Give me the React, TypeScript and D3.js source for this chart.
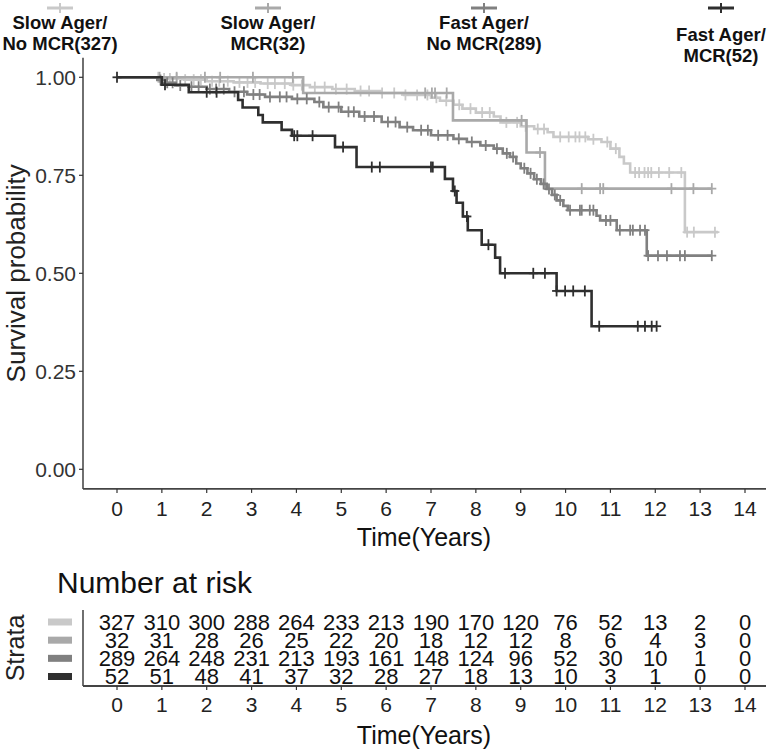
import React from "react";
import * as d3 from "d3";

const FONT = "'Liberation Sans', Arial, Helvetica, sans-serif";

const strataNames = ["Slow Ager/No MCR", "Slow Ager/MCR", "Fast Ager/No MCR", "Fast Ager/MCR"];
const legendLine1 = ["Slow Ager/", "Slow Ager/", "Fast Ager/", "Fast Ager/"];
const legendLine2 = ["No MCR(327)", "MCR(32)", "No MCR(289)", "MCR(52)"];
const strataColors = ["#c9c9c9", "#a9a9a9", "#808080", "#2f2f2f"];

// Kaplan-Meier step points (time, survival) per stratum
const slowNoTimes = [0, 1.0, 1.5, 2.0, 2.6, 3.2, 3.9, 4.3, 4.8, 5.3, 5.9, 6.4, 7.0, 7.2, 7.5, 7.7, 8.0, 8.4, 8.55, 9.0, 9.3, 9.6, 9.73, 10.5, 10.8, 11.0, 11.2, 11.3, 11.44, 12.66];
const slowNoSurv = [1, 0.997, 0.994, 0.99, 0.987, 0.984, 0.98, 0.975, 0.97, 0.965, 0.96, 0.955, 0.948, 0.94, 0.93, 0.92, 0.91, 0.9, 0.885, 0.875, 0.868, 0.86, 0.848, 0.842, 0.835, 0.818, 0.797, 0.78, 0.757, 0.605];
const slowNoEnd = 13.4;
const slowNoCensor = [0.92, 1.05, 1.18, 1.33, 1.52, 1.71, 1.87, 2.12, 2.28, 2.47, 2.73, 2.91, 3.08, 3.36, 3.52, 3.74, 3.93, 4.12, 4.41, 4.63, 4.88, 5.12, 5.43, 5.62, 5.91, 6.18, 6.43, 6.69, 6.92, 7.12, 7.34, 7.63, 7.88, 8.14, 8.31, 8.68, 8.92, 9.11, 9.38, 9.52, 9.88, 10.07, 10.22, 10.31, 10.44, 10.62, 10.93, 11.12, 11.55, 11.64, 11.76, 11.84, 11.91, 12.08, 12.31, 12.58, 12.71, 12.86, 13.33];

const slowMcrTimes = [0, 4.15, 7.49, 9.13, 9.54];
const slowMcrSurv = [1, 0.96, 0.89, 0.808, 0.716];
const slowMcrEnd = 13.26;
const slowMcrCensor = [0.95, 1.33, 1.96, 2.3, 3.03, 3.92, 6.87, 7.02, 7.09, 7.35, 9.02, 9.43, 10.36, 10.77, 10.84, 12.36, 12.85, 13.26];

const fastNoTimes = [0, 0.9, 1.1, 1.3, 1.6, 2.0, 2.5, 2.9, 3.3, 3.9, 4.4, 4.6, 5.0, 5.4, 5.9, 6.3, 6.6, 7.0, 7.5, 7.8, 8.1, 8.4, 8.6, 8.76, 8.9, 9.0, 9.15, 9.3, 9.45, 9.58, 9.7, 9.8, 9.95, 10.05, 10.69, 10.77, 11.14, 11.81];
const fastNoSurv = [1, 0.993, 0.986, 0.979, 0.976, 0.97, 0.963, 0.956, 0.95, 0.945, 0.937, 0.924, 0.912, 0.9, 0.886, 0.873, 0.865, 0.852, 0.843, 0.835, 0.826, 0.818, 0.806, 0.797, 0.78, 0.768, 0.755, 0.74, 0.728, 0.715, 0.7, 0.686, 0.672, 0.661, 0.647, 0.635, 0.61, 0.545];
const fastNoEnd = 13.26;
const fastNoCensor = [0.97, 1.12, 1.24, 1.41, 1.66, 1.82, 2.07, 2.21, 2.38, 2.62, 2.83, 3.04, 3.18, 3.41, 3.63, 3.78, 4.02, 4.23, 4.51, 4.72, 4.94, 5.16, 5.28, 5.52, 5.73, 6.04, 6.21, 6.47, 6.78, 6.93, 7.16, 7.37, 7.62, 7.91, 8.22, 8.47, 8.69, 8.83, 9.08, 9.22, 9.36, 9.51, 9.63, 9.76, 9.88, 10.1, 10.32, 10.36, 10.54, 10.62, 10.9, 11.0, 11.21, 11.44, 11.5, 11.66, 11.77, 11.84, 12.06, 12.26, 12.55, 12.66, 13.26];

const fastMcrTimes = [0, 1.0, 1.6, 2.7, 2.8, 3.15, 3.25, 3.67, 3.9, 4.86, 5.34, 7.31, 7.49, 7.57, 7.71, 7.82, 8.13, 8.43, 8.54, 9.8, 10.58];
const fastMcrSurv = [1, 0.981, 0.962, 0.942, 0.923, 0.904, 0.885, 0.866, 0.851, 0.822, 0.771, 0.741, 0.71, 0.68, 0.645, 0.61, 0.573, 0.54, 0.5, 0.455, 0.365];
const fastMcrEnd = 12.03;
const fastMcrCensor = [0, 1.07, 2.0, 2.22, 3.95, 4.02, 4.36, 5.04, 5.68, 5.86, 7.0, 7.04, 7.53, 7.8, 8.28, 8.65, 9.28, 9.54, 9.8, 9.99, 10.17, 10.43, 10.75, 11.61, 11.77, 11.92, 12.03];

const timeTicks = [0, 1, 2, 3, 4, 5, 6, 7, 8, 9, 10, 11, 12, 13, 14];
const survTicks = [0, 0.25, 0.5, 0.75, 1];
const survTickLabels = ["0.00", "0.25", "0.50", "0.75", "1.00"];

const riskSlowNo = [327, 310, 300, 288, 264, 233, 213, 190, 170, 120, 76, 52, 13, 2, 0];
const riskSlowMcr = [32, 31, 28, 26, 25, 22, 20, 18, 12, 12, 8, 6, 4, 3, 0];
const riskFastNo = [289, 264, 248, 231, 213, 193, 161, 148, 124, 96, 52, 30, 10, 1, 0];
const riskFastMcr = [52, 51, 48, 41, 37, 32, 28, 27, 18, 13, 10, 3, 1, 0, 0];

const curves = [
  { times: slowNoTimes, surv: slowNoSurv, end: slowNoEnd, censor: slowNoCensor },
  { times: slowMcrTimes, surv: slowMcrSurv, end: slowMcrEnd, censor: slowMcrCensor },
  { times: fastNoTimes, surv: fastNoSurv, end: fastNoEnd, censor: fastNoCensor },
  { times: fastMcrTimes, surv: fastMcrSurv, end: fastMcrEnd, censor: fastMcrCensor },
];
const riskRows = [riskSlowNo, riskSlowMcr, riskFastNo, riskFastMcr];

const legendCenters = [60, 268, 484, 721];
const legendOffsets = [0, 0, 0, 12];

function survAt(times: number[], surv: number[], t: number) {
  let v = surv[0];
  for (let i = 0; i < times.length; i++) if (times[i] <= t) v = surv[i];
  return v;
}

export default function App() {
  const W = 771, H = 750;
  const x = d3.scaleLinear().domain([0, 14]).range([117, 745]);
  const y = d3.scaleLinear().domain([0, 1]).range([469.3, 77.3]);
  const panelLeft = 83, panelRight = 766, panelTop = y(1.05), panelBottom = y(-0.05);
  const rowY = d3.scalePoint<string>().domain(strataNames).range([622, 676.5]);
  const tableAxisY = 686;

  const line = d3
    .line<[number, number]>()
    .x((d) => x(d[0]))
    .y((d) => y(d[1]))
    .curve(d3.curveStepAfter);

  return (
    <svg width={W} height={H} style={{ position: "absolute", left: 0, top: 0, background: "#fff" }} fontFamily={FONT}>
      <rect width={W} height={H} fill="#fff" />
      {/* Legend */}
      {strataNames.map((s, i) => {
        const cx = legendCenters[i];
        const oy = legendOffsets[i];
        return (
          <g key={s}>
            <line x1={cx - 13} x2={cx + 13} y1={8} y2={8} stroke={strataColors[i]} strokeWidth={3} />
            <line x1={cx} x2={cx} y1={3} y2={13} stroke={strataColors[i]} strokeWidth={2} />
            <text x={cx} y={29 + oy} textAnchor="middle" fontWeight="bold" fontSize={18.5} fill="#111">{legendLine1[i]}</text>
            <text x={cx} y={50 + oy} textAnchor="middle" fontWeight="bold" fontSize={18.5} fill="#111">{legendLine2[i]}</text>
          </g>
        );
      })}

      {/* Axes main */}
      <line x1={panelLeft} x2={panelLeft} y1={panelTop} y2={panelBottom} stroke="#222" strokeWidth={1.3} />
      <line x1={panelLeft} x2={panelRight} y1={panelBottom} y2={panelBottom} stroke="#444" strokeWidth={1.8} />
      {survTicks.map((t, i) => (
        <g key={t}>
          <line x1={panelLeft - 4} x2={panelLeft} y1={y(t)} y2={y(t)} stroke="#333" strokeWidth={1.2} />
          <text x={panelLeft - 7} y={y(t)} dy="0.35em" textAnchor="end" fontSize={21} fill="#333">{survTickLabels[i]}</text>
        </g>
      ))}
      {timeTicks.map((t) => (
        <g key={t}>
          <line x1={x(t)} x2={x(t)} y1={panelBottom} y2={panelBottom + 4} stroke="#333" strokeWidth={1.2} />
          <text x={x(t)} y={509} dy="0.35em" textAnchor="middle" fontSize={21} fill="#222">{t}</text>
        </g>
      ))}
      <text x={424} y={537} dy="0.35em" textAnchor="middle" fontSize={25} fill="#111">Time(Years)</text>
      <text transform={`translate(16,${(panelTop + panelBottom) / 2}) rotate(-90)`} dy="0.35em" textAnchor="middle" fontSize={26} fill="#222">Survival probability</text>

      {/* Curves */}
      {curves.map((c, i) => {
        const pts: [number, number][] = c.times.map((t, j) => [t, c.surv[j]] as [number, number]);
        pts.push([c.end, c.surv[c.surv.length - 1]]);
        return (
          <g key={i}>
            <path d={line(pts) || ""} fill="none" stroke={strataColors[i]} strokeWidth={2.6} />
            {c.censor.map((t, k) => {
              const cx = x(t), cy = y(survAt(c.times, c.surv, t));
              return (
                <g key={k}>
                  <line x1={cx} x2={cx} y1={cy - 5.5} y2={cy + 5.5} stroke={strataColors[i]} strokeWidth={1.8} />
                  <line x1={cx - 4.5} x2={cx + 4.5} y1={cy} y2={cy} stroke={strataColors[i]} strokeWidth={1.8} />
                </g>
              );
            })}
          </g>
        );
      })}

      {/* Risk table */}
      <text x={57} y={582} dy="0.35em" fontSize={30} fill="#111">Number at risk</text>
      <text transform={`translate(15,648) rotate(-90)`} dy="0.35em" textAnchor="middle" fontSize={25} fill="#222">Strata</text>
      {strataNames.map((s, i) => (
        <rect key={s} x={48} y={(rowY(s) as number) - 3.5} width={24} height={7} fill={strataColors[i]} />
      ))}
      <line x1={panelLeft} x2={panelLeft} y1={610} y2={tableAxisY} stroke="#222" strokeWidth={1.3} />
      <line x1={panelLeft} x2={panelRight} y1={tableAxisY} y2={tableAxisY} stroke="#444" strokeWidth={1.8} />
      {riskRows.map((row, i) =>
        row.map((v, j) => (
          <text key={`${i}-${j}`} x={x(timeTicks[j])} y={rowY(strataNames[i]) as number} dy="0.36em" textAnchor="middle" fontSize={22} fill="#111">{v}</text>
        ))
      )}
      {timeTicks.map((t) => (
        <g key={`tt${t}`}>
          <line x1={x(t)} x2={x(t)} y1={tableAxisY} y2={tableAxisY + 4} stroke="#333" strokeWidth={1.2} />
          <text x={x(t)} y={705} dy="0.35em" textAnchor="middle" fontSize={21} fill="#222">{t}</text>
        </g>
      ))}
      <text x={424} y={735} dy="0.35em" textAnchor="middle" fontSize={25} fill="#111">Time(Years)</text>
    </svg>
  );
}
